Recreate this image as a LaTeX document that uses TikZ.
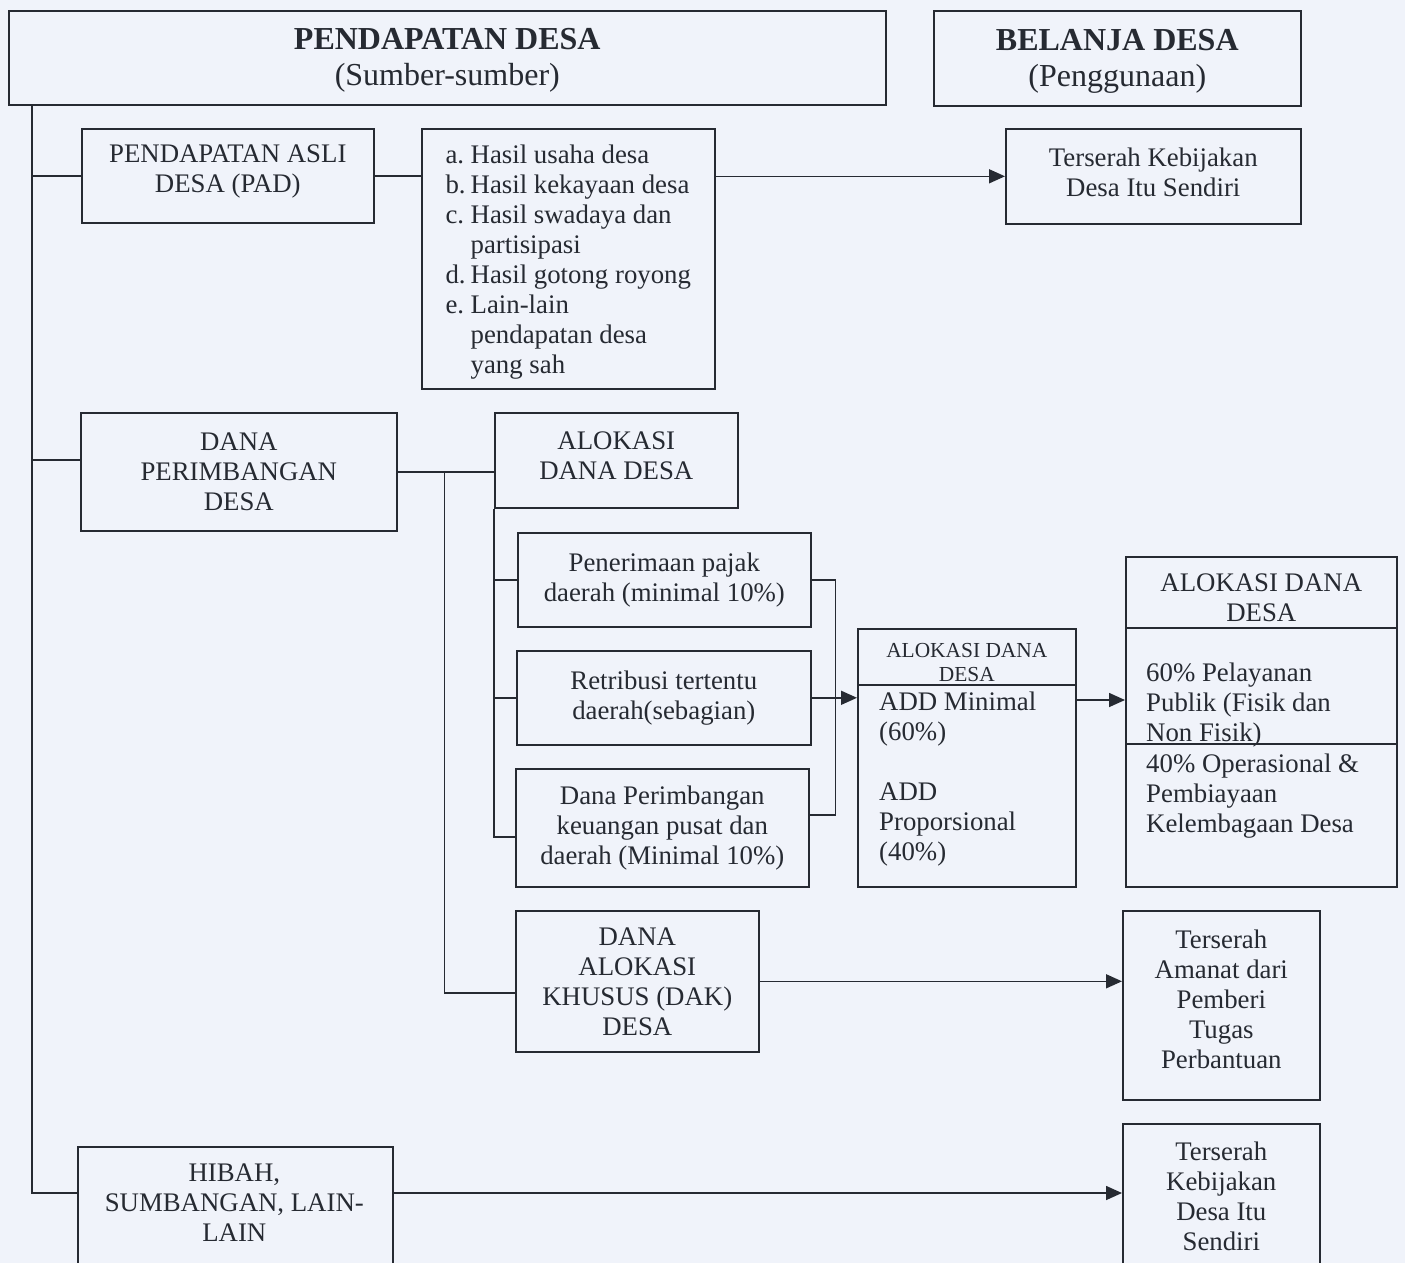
\documentclass[tikz,border=0pt]{standalone}
\usepackage{fontspec}
\setmainfont{Liberation Serif}
\usetikzlibrary{arrows.meta,calc}
\definecolor{paper}{RGB}{240,243,250}
\definecolor{ink}{RGB}{38,42,50}
\begin{document}
\begin{tikzpicture}[x=1pt,y=-1pt,
  box/.style={draw=ink, line width=1.6pt, inner sep=0pt, anchor=north west, text=ink, align=center, font=\fontsize{26.8}{30}\selectfont},
  lbl/.style={text=ink, inner sep=0pt, font=\fontsize{26.8}{30}\selectfont},
  conn/.style={draw=ink, line width=1.6pt},
  arr/.style={conn, -{Triangle[length=16pt,width=14pt]}}
]
\fill[paper] (0,0) rectangle (1405,1263);
\useasboundingbox (0,0) rectangle (1405,1263);
\clip (0,0) rectangle (1405,1263);

% headings
\node[box, minimum width=877pt, minimum height=94pt] (pd) at (8,10) {};
\node[lbl, align=center, font=\fontsize{32}{36}\selectfont] (pdt) at ($(pd.center)+(0,3)$)
  {\textbf{PENDAPATAN DESA}\\(Sumber-sumber)};
\node[box, minimum width=367pt, minimum height=95pt] (bd) at (933,10) {};
\node[lbl, align=center, font=\fontsize{32}{36}\selectfont] (bdt) at ($(bd.center)+(0,3)$)
  {\textbf{BELANJA DESA}\\(Penggunaan)};

% PAD row
\node[box, minimum width=292pt, minimum height=94pt] (pad) at (81,128) {};
\node[lbl, align=center] (padt) at ($(pad.center)+(0,-4)$) {PENDAPATAN ASLI\\DESA (PAD)};
\node[box, minimum width=293pt, minimum height=260pt] (lst) at (421,128) {};
\node[lbl, align=left] (lstt) at ($(lst.center)+(0,4)$)
  {\begin{tabular}{@{}l@{\hspace{5pt}}l@{}}
  a. & Hasil usaha desa\\
  b. & Hasil kekayaan desa\\
  c. & Hasil swadaya dan\\
     & partisipasi\\
  d. & Hasil gotong royong\\
  e. & Lain-lain\\
     & pendapatan desa\\
     & yang sah
  \end{tabular}};
\node[box, minimum width=295pt, minimum height=95pt] (t1) at (1005,128) {};
\node[lbl, align=center] (t1t) at ($(t1.center)+(0,-4)$) {Terserah Kebijakan\\Desa Itu Sendiri};

% Dana perimbangan
\node[box, minimum width=316pt, minimum height=118pt] (dp) at (80,412) {DANA\\PERIMBANGAN\\DESA};
\node[box, minimum width=243pt, minimum height=95pt] (add) at (494,412) {};
\node[lbl, align=center] (addt) at ($(add.center)+(0,-5)$) {ALOKASI\\DANA DESA};
\node[box, minimum width=293pt, minimum height=94pt] (pp) at (517,532) {Penerimaan pajak\\daerah (minimal 10\%)};
\node[box, minimum width=294pt, minimum height=94pt] (rt) at (516,650) {Retribusi tertentu\\daerah(sebagian)};
\node[box, minimum width=293pt, minimum height=118pt] (dpk) at (515,768) {Dana Perimbangan\\keuangan pusat dan\\daerah (Minimal 10\%)};

% small ADD box
\node[box, minimum width=218pt, minimum height=258pt] (sb) at (857,628) {};
\draw[conn] ($(sb.north west)+(0,57)$) -- ($(sb.north east)+(0,57)$);
\node[lbl, align=center, font=\fontsize{21.4}{24}\selectfont] (sbh) at ($(sb.north)+(0,35)$) {ALOKASI DANA\\DESA};
\node[lbl, align=left, anchor=west] (sbt) at ($(sb.north west)+(22,151)$)
  {ADD Minimal\\(60\%)\\[30pt]ADD\\Proporsional\\(40\%)};

% big ADD box
\node[box, minimum width=271pt, minimum height=330pt] (bb) at (1125,556) {};
\draw[conn] ($(bb.north west)+(0,72)$) -- ($(bb.north east)+(0,72)$);
\draw[conn] ($(bb.north west)+(0,188)$) -- ($(bb.north east)+(0,188)$);
\node[lbl, align=center] (bbh) at ($(bb.north)+(0,42)$) {ALOKASI DANA\\DESA};
\node[lbl, align=left, anchor=west] (bbu) at ($(bb.north west)+(21,149)$) {60\% Pelayanan\\Publik (Fisik dan\\Non Fisik)};
\node[lbl, align=left, anchor=west] (bbl) at ($(bb.north west)+(21,240)$) {40\% Operasional \&\\Pembiayaan\\Kelembagaan Desa};

% DAK
\node[box, minimum width=243pt, minimum height=141pt] (dak) at (515,910) {DANA\\ALOKASI\\KHUSUS (DAK)\\DESA};
\node[box, minimum width=197pt, minimum height=189pt] (t2) at (1122,910) {};
\node[lbl, align=center] (t2t) at ($(t2.north)+(0,89)$) {Terserah\\Amanat dari\\Pemberi\\Tugas\\Perbantuan};

% Hibah
\node[box, minimum width=315pt, minimum height=150pt] (hb) at (77,1146) {};
\node[lbl, align=center] (hbt) at ($(hb.north)+(-1,57)$) {HIBAH,\\SUMBANGAN, LAIN-\\LAIN};
\node[box, minimum width=197pt, minimum height=170pt] (t3) at (1122,1123) {};
\node[lbl, align=center] (t3t) at ($(t3.north)+(0,73)$) {Terserah\\Kebijakan\\Desa Itu\\Sendiri};

% connectors
\coordinate (trtop) at ($(pd.south west)+(24,0)$);
\coordinate (hbin) at ($(hb.north west)+(0,47)$);
\draw[conn] (trtop) |- (hbin);
\draw[conn] (trtop |- pad.west) -- (pad.west);
\draw[conn] (trtop |- dp.north west) ++(0,48) -- ($(dp.north west)+(0,48)$);
\draw[conn] (pad.east) -- (pad.east -| lst.west);
\draw[arr] (t1.west -| lst.east) -- (t1.west);

\coordinate (dpo) at ($(dp.east)+(47,0)$);
\draw[conn] (dp.east) -- (dp.east -| add.west);
\coordinate (dakin) at ($(dak.north west)+(0,83)$);
\draw[conn] (dpo) |- (dakin);

\coordinate (dpkin) at ($(dpk.north west)+(0,69)$);
\draw[conn] (add.south west) |- (dpkin);
\draw[conn] (add.south west |- pp.west) -- (pp.west);
\draw[conn] (add.south west |- rt.west) -- (rt.west);

\coordinate (brk) at ($(pp.east)+(24,0)$);
\coordinate (dpkout) at ($(dpk.north east)+(0,47)$);
\draw[conn] (pp.east) -- (brk) |- (dpkout);
\draw[arr] (rt.east) -- (rt.east -| sb.west);
\draw[arr] ($(sb.north east)+(0,72)$) -- ($(bb.north west)+(0,144)$);
\draw[arr] (dak.east) -- (dak.east -| t2.west);
\draw[arr] ($(hb.north east)+(0,47)$) -- ($(t3.north west)+(0,70)$);
\end{tikzpicture}
\end{document}
